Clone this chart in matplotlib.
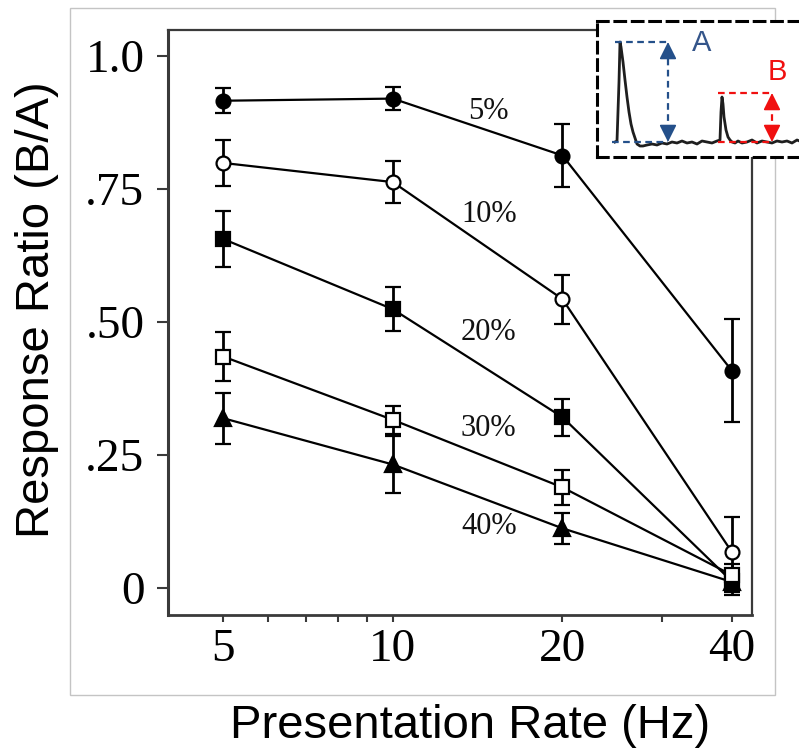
import matplotlib
matplotlib.use("Agg")
import matplotlib.pyplot as plt
from matplotlib.patches import Rectangle
from matplotlib.ticker import FixedLocator, NullFormatter

# presentation rates (Hz)
rates = [5, 10, 20, 40]

# response ratio B/A per deviant level, with SEM
ratio_5 = [0.916, 0.920, 0.813, 0.408]
err_5 = [0.023, 0.021, 0.060, 0.097]
ratio_10 = [0.799, 0.763, 0.543, 0.067]
err_10 = [0.043, 0.040, 0.046, 0.066]
ratio_20 = [0.656, 0.524, 0.321, 0.012]
err_20 = [0.053, 0.041, 0.035, 0.020]
ratio_30 = [0.435, 0.316, 0.189, 0.024]
err_30 = [0.046, 0.026, 0.033, 0.020]
ratio_40 = [0.319, 0.232, 0.112, 0.011]
err_40 = [0.048, 0.053, 0.029, 0.025]

level_labels = ["5%", "10%", "20%", "30%", "40%"]
label_pos_y = [0.895, 0.703, 0.481, 0.299, 0.115]
label_pos_x = 14.8

ytick_vals = [0, 0.25, 0.5, 0.75, 1.0]
ytick_text = ["0", ".25", ".50", ".75", "1.0"]

# inset trace (arbitrary time units, amplitude normalised to response A)
trace_t = [18, 20, 22, 23, 24, 26, 28, 30, 32, 34, 36, 38, 40, 43, 46, 50,
           55, 60, 65, 70, 75, 80, 85, 90, 95, 100, 105, 110, 115, 120, 123,
           124, 125, 126, 127, 129, 131, 133, 135, 138, 141, 145, 150, 155,
           160, 165, 170, 175, 180, 185, 190, 195, 200, 205, 210, 213]
trace_v = [0.0, 0.01, 0.6, 1.0, 0.95, 0.8, 0.62, 0.45, 0.3, 0.18, 0.1, 0.04,
           -0.02, -0.04, -0.04, -0.03, -0.02, -0.03, -0.01, -0.02, 0.0, -0.01,
           0.01, -0.01, 0.0, -0.02, 0.01, 0.0, -0.01, 0.01, 0.02, 0.3, 0.45,
           0.38, 0.25, 0.12, 0.05, 0.02, 0.0, -0.01, 0.01, -0.01, 0.0, 0.02,
           -0.01, 0.01, 0.0, -0.01, 0.01, 0.0, 0.01, -0.01, 0.02, 0.0, 0.01, 0.0]
amp_a = 1.0
amp_b = 0.49

serif = "Liberation Serif"
sans = "Liberation Sans"

fig = plt.figure(figsize=(7.99, 7.49), dpi=100)
W, H = 799, 749

# light frame around the panel
fig.add_artist(Rectangle((70 / W, 1 - 695 / H), 705 / W, 687 / H,
                         transform=fig.transFigure, fill=False,
                         edgecolor="#c4c4c4", lw=1.0, zorder=0))

ax = fig.add_axes([168 / W, 1 - 615 / H, 584 / W, 585 / H])

# (values, errors, marker, face, zorder) - open squares end up on top at 40 Hz
series = [
    (ratio_5, err_5, "o", "black", 2),
    (ratio_10, err_10, "o", "white", 3),
    (ratio_20, err_20, "s", "black", 2),
    (ratio_30, err_30, "s", "white", 4),
    (ratio_40, err_40, "^", "black", 2),
]
for vals, errs, mk, face, z in series:
    ax.errorbar(rates, vals, yerr=errs, fmt="-" + mk, color="black",
                mfc=face, mec="black", mew=1.6, ms=10 if mk != "^" else 11,
                lw=1.6, elinewidth=2, capsize=6, capthick=2, zorder=z)

for txt, yy in zip(level_labels, label_pos_y):
    ax.text(label_pos_x, yy, txt, ha="center", va="center",
            family=serif, fontsize=22, color="#111111")

ax.set_xscale("log")
ax.set_xlim(3.99, 43.4)
ax.set_ylim(-0.051, 1.049)
ax.xaxis.set_major_locator(FixedLocator(rates))
ax.xaxis.set_minor_locator(FixedLocator([6, 7, 8, 9, 30]))
ax.xaxis.set_minor_formatter(NullFormatter())
ax.set_xticklabels([str(r) for r in rates])
ax.set_yticks(ytick_vals)
ax.set_yticklabels(ytick_text)

for lab in ax.get_xticklabels() + ax.get_yticklabels():
    lab.set_family(serif)
    lab.set_fontsize(34)

for sp in ax.spines.values():
    sp.set_color("#3a3a3a")
    sp.set_linewidth(1.6)
ax.spines["left"].set_linewidth(2.2)
ax.spines["bottom"].set_linewidth(2.0)

ax.tick_params(axis="y", direction="out", length=8, width=1.5, pad=9,
               color="#3a3a3a")
ax.tick_params(axis="x", which="both", direction="out", length=5, width=1.5,
               pad=5, color="#3a3a3a")

fig.text(470 / W, 1 - 738 / H, "Presentation Rate (Hz)", ha="center",
         va="baseline", family=sans, fontsize=34)
fig.text(37 / W, 1 - 310 / H, "Response Ratio (B/A)", ha="center",
         va="center", rotation=90, family=sans, fontsize=34)

# inset with example responses
ins = fig.add_axes([597 / W, 1 - 157 / H, 240 / W, 136 / H], zorder=5)
ins.set_facecolor("white")
ins.set_xlim(0, 240)
ins.set_ylim(-0.15, 1.21)
ins.set_xticks([])
ins.set_yticks([])
for sp in ins.spines.values():
    sp.set_linestyle((0, (3.5, 2.2)))
    sp.set_linewidth(2.2)
    sp.set_color("black")

ins.plot(trace_t, trace_v, color="#1e1e1e", lw=2.0)

blue = "#24508a"
red = "#f01010"
dash = (0, (3, 2))
ins.plot([18, 71], [amp_a, amp_a], color=blue, lw=1.6, ls=dash)
ins.plot([15, 71], [0, 0], color=blue, lw=1.6, ls=dash)
ins.plot([71, 71], [0.1, amp_a - 0.1], color=blue, lw=1.6, ls=dash)
ins.plot([121, 175], [amp_b, amp_b], color=red, lw=1.6, ls=dash)
ins.plot([121, 175], [0, 0], color=red, lw=1.6, ls=dash)
ins.plot([175, 175], [0.1, amp_b - 0.1], color=red, lw=1.6, ls=dash)

head = dict(arrowstyle="-|>,head_length=0.7,head_width=0.35",
            mutation_scale=15, shrinkA=0, shrinkB=0, lw=1.2)
for xx, top, col in [(71, amp_a, blue), (175, amp_b, red)]:
    ins.annotate("", xy=(xx, top), xytext=(xx, top - 0.14),
                 arrowprops=dict(head, color=col))
    ins.annotate("", xy=(xx, 0), xytext=(xx, 0.14),
                 arrowprops=dict(head, color=col))

ins.text(105, 0.99, "A", color="#34558a", family=sans, fontsize=21,
         ha="center", va="center")
ins.text(180, 0.70, "B", color=red, family=sans, fontsize=21,
         ha="center", va="center")

fig.savefig("out.png", dpi=100)
